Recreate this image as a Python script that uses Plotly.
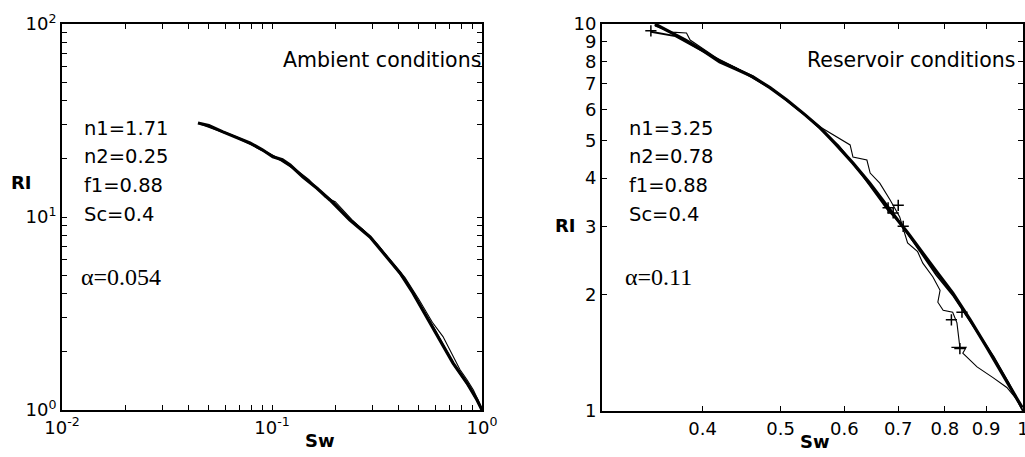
import plotly.graph_objects as go

# ---------------- data ----------------
# Ambient conditions (left panel)
sw_amb_a = [0.0444, 0.0500, 0.0584, 0.0680, 0.0785, 0.0900, 0.101, 0.112, 0.122, 0.1405,
            0.1638, 0.1888, 0.2275, 0.235, 0.293, 0.338, 0.407, 0.469, 0.547, 0.631,
            0.728, 0.848, 0.946, 1.0]
ri_amb_a = [30.7, 29.8, 27.6, 25.9, 24.2, 22.3, 20.5, 19.8, 18.6, 16.1,
            14.1, 12.25, 10.0, 9.65, 7.88, 6.51, 5.13, 4.04, 3.03, 2.30,
            1.75, 1.38, 1.13, 1.0]
sw_amb_b = [0.046, 0.055, 0.066, 0.080, 0.095, 0.110, 0.125, 0.145, 0.170, 0.195,
            0.230, 0.270, 0.320, 0.380, 0.440, 0.510, 0.590, 0.660, 0.740, 0.820,
            0.900, 0.960, 1.0]
ri_amb_b = [30.3, 28.2, 26.2, 23.7, 21.5, 19.7, 18.0, 15.8, 13.6, 12.0,
            9.85, 8.6, 7.1, 5.6, 4.55, 3.45, 2.65, 2.12, 1.70, 1.45,
            1.24, 1.09, 1.0]
sw_amb_c = [0.048, 0.060, 0.075, 0.095, 0.120, 0.150, 0.179, 0.200, 0.240, 0.300,
            0.360, 0.430, 0.500, 0.580, 0.652, 0.720, 0.785, 0.850, 0.910, 0.960, 1.0]
ri_amb_c = [30.0, 27.5, 24.8, 21.6, 18.9, 15.6, 12.7, 12.0, 9.7, 7.75,
            6.1, 4.85, 3.75, 2.85, 2.40, 1.95, 1.62, 1.43, 1.27, 1.12, 1.0]

# Reservoir conditions (right panel)
sw_res_a = [0.349, 0.365, 0.381, 0.400, 0.420, 0.440, 0.462, 0.485, 0.509, 0.535,
            0.560, 0.585, 0.615, 0.645, 0.678, 0.700, 0.720, 0.745, 0.780, 0.818,
            0.860, 0.902, 0.950, 0.998]
ri_res_a = [10.0, 9.5, 9.09, 8.55, 7.98, 7.65, 7.30, 6.85, 6.36, 5.85,
            5.39, 4.9, 4.37, 3.88, 3.37, 3.1, 2.88, 2.61, 2.3, 2.02,
            1.72, 1.46, 1.22, 1.02]
sw_res_b = [0.345, 0.37, 0.40, 0.44, 0.49, 0.54, 0.59, 0.63, 0.68, 0.70,
            0.73, 0.78, 0.82, 0.86, 0.92, 0.96, 1.0]
ri_res_b = [9.55, 9.3, 8.5, 7.7, 6.75, 5.75, 4.85, 4.1, 3.3, 3.1,
            2.75, 2.25, 1.98, 1.7, 1.38, 1.18, 1.0]
sw_res_c = [0.349, 0.366, 0.382, 0.386, 0.420, 0.462, 0.509, 0.560, 0.610, 0.615,
            0.640, 0.646, 0.664, 0.684, 0.703, 0.719, 0.740, 0.751, 0.773, 0.789,
            0.784, 0.796, 0.818, 0.828, 0.835, 0.815, 0.850, 0.842, 0.877, 0.918,
            0.955, 0.983, 1.0]
ri_res_c = [9.88, 9.53, 9.48, 9.09, 8.07, 7.34, 6.36, 5.42, 4.87, 4.53,
            4.45, 4.12, 3.88, 3.51, 3.17, 2.72, 2.58, 2.41, 2.22, 2.05,
            1.91, 1.82, 1.80, 1.69, 1.46, 1.46, 1.46, 1.41, 1.30, 1.22,
            1.15, 1.07, 1.0]
sw_res_marks = [0.345, 0.680, 0.690, 0.700, 0.710, 0.815, 0.835, 0.840]
ri_res_marks = [9.6, 3.35, 3.25, 3.4, 3.0, 1.72, 1.45, 1.80]

# tick values / labels
amb_major = [0.01, 0.1, 1.0]
amb_major_lbl = ["10<sup>-2</sup>", "10<sup>-1</sup>", "10<sup>0</sup>"]
amb_y_major = [1.0, 10.0, 100.0]
amb_y_major_lbl = ["10<sup>0</sup>", "10<sup>1</sup>", "10<sup>2</sup>"]
res_x_ticks = [0.4, 0.5, 0.6, 0.7, 0.8, 0.9, 1.0]
res_x_lbl = ["0.4", "0.5", "0.6", "0.7", "0.8", "0.9", "1"]
res_y_ticks = [1, 2, 3, 4, 5, 6, 7, 8, 9, 10]
res_y_lbl = ["1", "2", "3", "4", "5", "6", "7", "8", "9", "10"]

# ---------------- figure ----------------
W, H = 1025, 457
def px(x):
    return x / W
def py(y):
    return 1 - y / H

def log_ticks(lo_dec, hi_dec, majors, major_lbl):
    vals, txt = [], []
    for d in range(lo_dec, hi_dec):
        for m in range(1, 10):
            vals.append(m * 10.0 ** d)
            txt.append("")
    vals.append(10.0 ** hi_dec)
    txt.append("")
    for mv, ml in zip(majors, major_lbl):
        for i, v in enumerate(vals):
            if abs(v - mv) / mv < 1e-9:
                txt[i] = ml
    return vals, txt

ax_x_vals, ax_x_txt = log_ticks(-2, 0, amb_major, amb_major_lbl)
ax_y_vals, ax_y_txt = log_ticks(0, 2, amb_y_major, amb_y_major_lbl)

fig = go.Figure()
thick = dict(color="black", width=3.2)
med = dict(color="black", width=1.8)
thin = dict(color="black", width=1.1)

fig.add_trace(go.Scatter(x=sw_amb_a, y=ri_amb_a, mode="lines", line=thick, xaxis="x", yaxis="y"))
fig.add_trace(go.Scatter(x=sw_amb_b, y=ri_amb_b, mode="lines", line=med, xaxis="x", yaxis="y"))
fig.add_trace(go.Scatter(x=sw_amb_c, y=ri_amb_c, mode="lines", line=thin, xaxis="x", yaxis="y"))
fig.add_trace(go.Scatter(x=sw_res_a, y=ri_res_a, mode="lines", line=thick, xaxis="x2", yaxis="y2"))
fig.add_trace(go.Scatter(x=sw_res_b, y=ri_res_b, mode="lines", line=med, xaxis="x2", yaxis="y2"))
fig.add_trace(go.Scatter(x=sw_res_c, y=ri_res_c, mode="lines", line=thin, xaxis="x2", yaxis="y2"))
fig.add_trace(go.Scatter(x=sw_res_marks, y=ri_res_marks, mode="markers", xaxis="x2", yaxis="y2",
                         marker=dict(symbol="cross-thin", size=8, line=dict(color="black", width=1.5))))

tickfont = dict(family="DejaVu Sans", size=18, color="black")
common = dict(type="log", showline=True, linewidth=2, linecolor="black", mirror="ticks",
              ticks="inside", ticklen=5, tickwidth=1, tickcolor="black", showgrid=False,
              zeroline=False, tickmode="array", tickfont=tickfont, automargin=False,
              ticklabeloverflow="allow")

fig.update_layout(
    width=W, height=H,
    margin=dict(l=0, r=0, t=0, b=0),
    paper_bgcolor="white", plot_bgcolor="white",
    showlegend=False,
    xaxis=dict(domain=[px(62), px(482)], range=[-2, 0], anchor="y",
               tickvals=ax_x_vals, ticktext=ax_x_txt, **common),
    yaxis=dict(domain=[py(410), py(24)], range=[0, 2], anchor="x",
               tickvals=ax_y_vals, ticktext=ax_y_txt, **common),
    xaxis2=dict(domain=[px(602), px(1023)], range=[-0.5229, 0.0001], anchor="y2",
                tickvals=res_x_ticks, ticktext=res_x_lbl, **common),
    yaxis2=dict(domain=[py(411), py(24)], range=[0, 1], anchor="x2",
                tickvals=res_y_ticks, ticktext=res_y_lbl, **common),
)

sans = "DejaVu Sans"
serif = "Liberation Serif"
ann = []
def add(text, x, y, size=19.5, family=sans, xanchor="left", bold=False):
    ann.append(dict(text=("<b>%s</b>" % text) if bold else text, x=px(x), y=py(y),
                    xref="paper", yref="paper", showarrow=False, xanchor=xanchor,
                    yanchor="middle", font=dict(family=family, size=size, color="black")))

add("Ambient conditions", 483, 60, size=20.5, xanchor="right")
add("n1=1.71", 82, 128)
add("n2=0.25", 82, 157)
add("f1=0.88", 82, 185)
add("Sc=0.4", 82, 214)
add("α=0.054", 79, 277, size=24, family=serif)
add("RI", 21, 182, size=18, xanchor="center", bold=True)
add("Sw", 320, 440, size=18, xanchor="center", bold=True)

add("Reservoir conditions", 1017, 60, size=20.5, xanchor="right")
add("n1=3.25", 627, 128)
add("n2=0.78", 627, 157)
add("f1=0.88", 627, 185)
add("Sc=0.4", 627, 214)
add("α=0.11", 623, 277, size=24, family=serif)
add("RI", 565, 225, size=18, xanchor="center", bold=True)
add("Sw", 815, 441, size=18, xanchor="center", bold=True)

fig.update_layout(annotations=ann)
fig.write_html("out.html", config={"displayModeBar": False},
               post_script="document.body.style.margin='0px';document.body.style.overflow='hidden';")
